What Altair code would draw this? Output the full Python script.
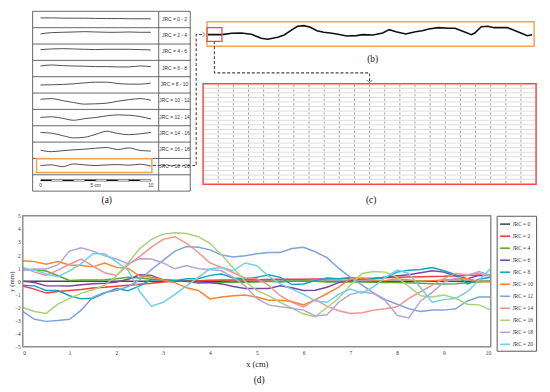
import altair as alt
import pandas as pd

W, H = 542, 384
SERIF = "Liberation Serif"
SANS = "Liberation Sans"

x_cm = [0, 0.25, 0.5, 0.75, 1, 1.25, 1.5, 1.75, 2, 2.25, 2.5, 2.75, 3, 3.25, 3.5, 3.75,
        4, 4.25, 4.5, 4.75, 5, 5.25, 5.5, 5.75, 6, 6.25, 6.5, 6.75, 7, 7.25, 7.5, 7.75,
        8, 8.25, 8.5, 8.75, 9, 9.25, 9.5, 9.75, 10]
jrc_levels = [0, 2, 4, 6, 8, 10, 12, 14, 16, 18, 20]
jrc_0 = [0.0, 0.0, 0.0, 0.0, 0.0, 0.0, 0.0, 0.0, 0.0, 0.0, 0.0, 0.0, 0.0, 0.0, 0.0, 0.0,
         0.0, 0.0, 0.0, 0.0, 0.0, 0.0, 0.0, 0.0, 0.0, 0.0, 0.0, 0.0, 0.0, 0.0, 0.0, 0.0,
         0.0, 0.0, 0.0, 0.0, 0.0, 0.0, 0.0, 0.0, 0.0]
jrc_2 = [-0.36, -0.6, -0.9, -0.78, -0.7, -0.62, -0.52, -0.46, -0.38, -0.3, -0.22, -0.15, -0.05, 0.0,
         0.02, 0.05, 0.08, 0.1, 0.1, 0.12, 0.12, 0.14, 0.15, 0.15, 0.16, 0.18, 0.18, 0.2, 0.2, 0.22,
         0.24, 0.26, 0.3, 0.32, 0.34, 0.36, 0.38, 0.42, 0.46, 0.48, 0.5]
jrc_4 = [0.94, 0.88, 0.78, 0.42, 0.06, 0.1, 0.1, 0.12, 0.2, 0.3, 0.25, 0.15, 0.1, 0.08, 0.0, -0.15,
         -0.12, -0.1, -0.05, -0.08, -0.05, 0.0, -0.05, 0.0, 0.02, 0.0, -0.05, -0.03, -0.05, -0.05,
         -0.08, -0.1, -0.1, -0.12, -0.15, -0.18, -0.2, -0.18, -0.12, -0.05, 0.0]
jrc_6 = [0.0, -0.1, -0.35, -0.35, -0.36, -0.26, -0.18, -0.15, -0.05, 0.15, 0.5, 0.45, 0.1, 0.05, 0.0,
         -0.05, -0.1, -0.2, -0.4, -0.55, -0.55, -0.55, -0.35, -0.5, -0.7, -0.68, -0.45, -0.1, 0.05,
         0.2, 0.22, 0.3, 0.42, 0.5, 0.65, 0.8, 0.7, 0.4, 0.2, 0.45, 0.44]
jrc_8 = [-0.3, -0.35, -0.7, -0.7, -1.1, -1.34, -1.3, -0.9, -0.56, -0.72, -0.35, 0.15, 0.1, 0.05, 0.2,
         0.2, 0.45, 0.55, 0.25, 0.2, 0.3, 0.5, 0.3, -0.25, -0.2, 0.05, 0.25, 0.2, 0.28, 0.15, 0.2, 0.3,
         0.7, 0.85, 0.9, 1.05, 0.8, 0.5, -0.2, 0.15, 0.3]
jrc_10 = [1.56, 1.5, 1.3, 1.5, 1.25, 1.2, 1.1, 1.4, 1.06, 0.98, 0.4, 0.3, 0.1, -0.1, -0.5, -0.7,
          -1.35, -1.2, -1.1, -1.05, -1.2, -1.44, -1.45, -1.55, -1.8, -1.4, -0.95, -0.45, 0.2, 0.25,
          0.1, 0.05, 0.2, 0.1, 0.0, 0.05, 0.1, 0.15, 0.2, 0.0, -0.05]
jrc_12 = [-2.3, -2.9, -3.06, -3.0, -2.9, -2.2, -1.2, -0.85, -0.7, -0.4, 0.1, 0.9, 1.6, 2.3, 2.65,
          2.6, 2.4, 2.0, 1.85, 1.95, 2.1, 2.2, 2.2, 2.5, 2.6, 2.25, 1.8, 1.0, 0.3, -0.3, -0.9, -1.4,
          -1.75, -2.1, -2.3, -2.2, -2.2, -2.1, -1.5, -1.2, -1.2]
jrc_14 = [1.06, 0.7, 0.45, 0.85, 1.3, 1.7, 1.15, 0.65, 0.44, 1.25, 1.9, 2.6, 3.2, 3.4, 2.9, 2.2,
          1.4, 1.05, 0.65, 0.25, 0.2, -0.3, -1.1, -1.6, -1.95, -1.4, -1.9, -2.25, -2.45, -2.4, -2.2,
          -2.1, -1.95, -1.3, -0.8, -0.3, 0.2, 0.6, 0.5, 0.6, 0.4]
jrc_16 = [-2.0, -2.3, -2.45, -1.75, -1.3, -0.9, -0.65, -0.3, 0.4, 1.4, 2.5, 3.2, 3.6, 3.7, 3.65,
          3.4, 2.9, 2.0, 1.0, 0.0, -0.7, -1.1, -1.6, -2.05, -2.5, -2.7, -2.0, -1.3, -0.3, 0.6, 0.75,
          0.7, 0.3, -0.4, -1.1, -1.2, -1.05, -1.3, -1.75, -1.8, -2.2]
jrc_18 = [0.8, 0.94, 0.94, 1.25, 2.3, 2.56, 2.3, 1.95, 1.7, 1.35, 1.72, 1.7, 1.4, 0.95, 1.2, 0.95,
          0.9, 0.8, 0.3, -0.35, -1.3, -1.8, -1.95, -2.06, -2.2, -2.65, -2.56, -1.6, -1.0, -0.8,
          -0.95, -1.5, -2.6, -2.8, -1.5, -0.85, -0.06, 0.22, 0.45, 0.75, 0.44]
jrc_20 = [0.94, 0.85, 0.55, 0.35, 0.8, 1.35, 2.1, 2.1, 1.5, 0.85, -0.8, -1.9, -1.6, -1.0, -0.35,
          0.3, 0.95, 1.05, 0.8, 1.4, 1.2, 0.4, -0.2, -0.6, -1.0, -1.5, -1.6, -1.0, -0.6, -0.9, -0.4,
          0.3, 0.85, 0.6, -0.5, -1.6, -1.4, -1.3, -0.8, 0.1, 1.0]
series_d = [jrc_0, jrc_2, jrc_4, jrc_6, jrc_8, jrc_10, jrc_12, jrc_14, jrc_16, jrc_18, jrc_20]
line_colors = ["#4a4a4a", "#e8423b", "#62a632", "#7b45a8", "#15a3bf", "#f7862e",
               "#7fa3dc", "#f29393", "#a6d27c", "#b7a2d9", "#6fcfe9"]

# ---------------- (a) Barton standard profiles (deviation in mm, up = +) ----------------
a_x = [0, 1, 2, 3, 4, 5, 6, 7, 8, 9, 10]
prof_a_0_2 = [1.5, 1.5, 1.3, 1.2, 1.2, 1.0, 0.9, 0.9, 0.7, 0.7, 0.6]
prof_a_2_4 = [1.8, 3.0, 3.3, 3.6, 3.9, 3.6, 3.3, 3.3, 3.6, 3.3, 3.3]
prof_a_4_6 = [2.4, 3.0, 3.3, 3.0, 2.7, 2.4, 2.7, 2.7, 2.7, 2.4, 2.1]
prof_a_6_8 = [2.4, 3.3, 2.7, 2.4, 2.1, 1.8, 1.8, 1.5, 1.5, 2.4, 1.8]
prof_a_8_10 = [-0.1, 0.1, 0.4, 1.0, 1.9, 2.5, 2.5, 1.3, 0.7, 0.7, 1.6]
prof_a_10_12 = [1.8, 2.4, 0.6, -1.2, -2.7, -2.4, -1.8, 0.0, 1.5, 2.4, 0.9]
prof_a_12_14 = [0.1, 0.7, -0.7, -2.5, -1.0, 0.1, 1.6, 2.5, 2.2, 1.0, -1.3]
prof_a_14_16 = [1.3, 0.7, -1.6, -3.7, -3.1, -0.4, 2.5, 0.4, -0.7, 0.1, 1.3]
prof_a_16_18 = [0.1, -1.3, -0.4, 0.4, 1.0, 1.9, 2.5, 0.7, 2.2, -0.1, -0.7]
prof_a_18_20 = [1.0, 1.6, -0.1, 2.5, 1.6, 1.0, 1.6, 1.9, 1.3, 2.2, 0.4]
a_profiles = [prof_a_0_2, prof_a_2_4, prof_a_4_6, prof_a_6_8, prof_a_8_10,
              prof_a_10_12, prof_a_12_14, prof_a_14_16, prof_a_16_18, prof_a_18_20]
a_labels = ["JRC = 0 - 2", "JRC = 2 - 4", "JRC = 4 - 6", "JRC = 6 - 8", "JRC = 8 - 10",
            "JRC = 10 - 12", "JRC = 12 - 14", "JRC = 14 - 16", "JRC = 16 - 18", "JRC = 18 - 20"]
bar_cm = [0, 1, 2, 3, 4, 5, 6, 7, 8, 9]
bar_tick_cm = [0, 5, 10]
bar_tick_text = ["0", "5 cm", "10"]

# ---------------- (b) enlarged JRC 18-20 profile ----------------
b_x = [0, 0.43, 0.73, 1.03, 1.34, 1.64, 1.84, 2.15, 2.35, 2.55, 2.76, 2.96, 3.16, 3.36, 3.57,
       3.77, 3.97, 4.28, 4.58, 4.78, 5.09, 5.39, 5.59, 5.80, 6.10, 6.40, 6.61, 6.81, 7.11, 7.42,
       7.62, 7.82, 8.13, 8.23, 8.43, 8.63, 8.83, 9.04, 9.24, 9.44, 9.65, 9.85, 10.0]
b_h = [0.3, 0.3, 0.7, 0.8, 0.4, -0.8, -1.1, -0.5, 0.2, 1.5, 2.8, 3.0, 2.5, 1.5, 1.0, 0.8, 0.5,
       -0.1, 0.0, 0.3, 0.2, 0.8, 1.8, 1.2, 0.5, 1.2, 1.5, 2.0, 2.4, 2.2, 2.2, 1.5, 0.3, 0.8, 2.7,
       2.8, 2.4, 2.4, 2.4, 1.6, 0.8, 0.0, 0.3]

# ---------------- (c) digitised table grid ----------------
c_cols = 22
c_rows = 22


# ---------------- layout helpers ----------------
def S(domain, rng):
    return alt.Scale(domain=domain, range=rng, nice=False, zero=False)


def enc(xs, ys, x="x", y="y", x2=None, y2=None):
    e = dict(x=alt.X(f"{x}:Q", scale=xs, axis=None), y=alt.Y(f"{y}:Q", scale=ys, axis=None))
    if x2:
        e["x2"] = alt.X2(x2)
    if y2:
        e["y2"] = alt.Y2(y2)
    return e


layers = []

# ---------- panel (a) ----------
ROW_MM = 15.2
AX = S([0, 10], [33, 145])
AY = S([0, 11 * ROW_MM], [0.5, 183])
A_LEFT, A_DIV, A_RIGHT = -0.714, 10.71, 13.57

a_h = pd.DataFrame({"y": [k * ROW_MM for k in range(12)], "x": A_LEFT, "x2": A_RIGHT})
layers.append(alt.Chart(a_h).mark_rule(color="#555555", strokeWidth=0.9).encode(**enc(AX, AY, x2="x2")))
a_v = pd.DataFrame({"x": [A_LEFT, A_DIV, A_RIGHT], "y": 0.0, "y2": 11 * ROW_MM})
layers.append(alt.Chart(a_v).mark_rule(color="#555555", strokeWidth=0.9).encode(**enc(AX, AY, y2="y2")))

prof_rows = []
for k, prof in enumerate(a_profiles):
    for xv, dv in zip(a_x, prof):
        prof_rows.append({"x": xv, "y": (k + 0.5) * ROW_MM - dv, "row": k})
layers.append(alt.Chart(pd.DataFrame(prof_rows)).mark_line(
    color="#3a3a3a", strokeWidth=0.9, interpolate="monotone").encode(**enc(AX, AY), detail="row:N"))

lab_df = pd.DataFrame({"x": 12.14, "y": [(k + 0.45) * ROW_MM for k in range(10)], "t": a_labels})
layers.append(alt.Chart(lab_df).mark_text(font=SANS, fontSize=5, color="#333333").encode(
    **enc(AX, AY), text="t:N"))

hl = pd.DataFrame({"x": [-0.36], "x2": [10.09], "y": [137.0], "y2": [149.8]})
layers.append(alt.Chart(hl).mark_rect(fillOpacity=0, stroke="#f2a24e", strokeWidth=1.5).encode(
    **enc(AX, AY, x2="x2", y2="y2")))

bar_df = pd.DataFrame({"x": bar_cm, "x2": [v + 1 for v in bar_cm], "y": 156.3, "y2": 157.9,
                       "dark": [i % 2 == 0 for i in range(len(bar_cm))]})
layers.append(alt.Chart(bar_df[bar_df.dark]).mark_rect(fill="#111111").encode(
    **enc(AX, AY, x2="x2", y2="y2")))
layers.append(alt.Chart(bar_df[~bar_df.dark]).mark_rect(fill="white", stroke="#111111", strokeWidth=0.5).encode(
    **enc(AX, AY, x2="x2", y2="y2")))
bt = pd.DataFrame({"x": bar_tick_cm, "y": 162.6, "t": bar_tick_text})
layers.append(alt.Chart(bt).mark_text(font=SANS, fontSize=4.8, color="#333333").encode(
    **enc(AX, AY), text="t:N"))
layers.append(alt.Chart(pd.DataFrame({"x": [6.0], "y": [175.3], "t": ["(a)"]})).mark_text(
    font=SERIF, fontSize=9.5, color="#111111").encode(**enc(AX, AY), text="t:N"))

# ---------- panel (b) ----------
BX = S([0, 10], [203, 532])
BY = S([-3.2, 4.2], [36, 11])
layers.append(alt.Chart(pd.DataFrame({"x": [-0.03], "x2": [10.06], "y": [-3.2], "y2": [4.2]})).mark_rect(
    fillOpacity=0, stroke="#f5a54f", strokeWidth=1.5).encode(**enc(BX, BY, x2="x2", y2="y2")))
layers.append(alt.Chart(pd.DataFrame({"x": b_x, "y": b_h})).mark_line(
    color="#111111", strokeWidth=1.6).encode(**enc(BX, BY)))
layers.append(alt.Chart(pd.DataFrame({"x": [-0.03], "x2": [0.43], "y": [-1.72], "y2": [2.42]})).mark_rect(
    fillOpacity=0, stroke="#ef4b4b", strokeWidth=1.3).encode(**enc(BX, BY, x2="x2", y2="y2")))
layers.append(alt.Chart(pd.DataFrame({"x": [5.08], "y": [-7.05], "t": ["(b)"]})).mark_text(
    font=SERIF, fontSize=9.5, color="#111111").encode(**enc(BX, BY), text="t:N"))

# ---------- panel (c) ----------
CX = S([0, c_cols], [198, 536])
CY = S([0, c_rows], [74, 176])
ch = pd.DataFrame({"y": list(range(1, c_rows)), "x": 0, "x2": c_cols})
layers.append(alt.Chart(ch).mark_rule(color="#d4d4d4", strokeWidth=0.8).encode(**enc(CX, CY, x2="x2")))
cv = pd.DataFrame({"x": list(range(1, c_cols)), "y": 0, "y2": c_rows})
layers.append(alt.Chart(cv).mark_rule(color="#8c8c8c", strokeWidth=0.8, strokeDash=[2.4, 2.24],
                                      strokeDashOffset=3.5).encode(**enc(CX, CY, y2="y2")))
layers.append(alt.Chart(pd.DataFrame({"x": [0], "x2": [c_cols], "y": [0], "y2": [c_rows]})).mark_rect(
    fillOpacity=0, stroke="#f04a4a", strokeWidth=1.5).encode(**enc(CX, CY, x2="x2", y2="y2")))
layers.append(alt.Chart(pd.DataFrame({"x": [11.1], "y": [25.45], "t": ["(c)"]})).mark_text(
    font=SERIF, fontSize=9.5, color="#111111").encode(**enc(CX, CY), text="t:N"))

# ---------- panel (d) ----------
DX = S([0, 10], [15, 490])
DY = S([-5, 5], [341, 208])
labels_d = [f"JRC = {j}" for j in jrc_levels]
d_rows = []
for lab, vals in zip(labels_d, series_d):
    for xv, yv in zip(x_cm, vals):
        d_rows.append({"x": xv, "y": yv, "JRC": lab})
df_d = pd.DataFrame(d_rows)

x_axis = alt.Axis(orient="bottom", offset=-43, values=list(range(11)), format="d", domain=False,
                  grid=False, ticks=False, labelFont=SERIF, labelFontSize=5.5, labelColor="#333333",
                  labelPadding=4, title="x (cm)", titleFont=SERIF, titleFontSize=8.5,
                  titleFontWeight="normal", titleColor="#222222", titlePadding=3)
y_axis = alt.Axis(orient="left", offset=-15, values=list(range(-5, 6)), format="d", domain=False,
                  grid=False, ticks=False, labelFont=SERIF, labelFontSize=5.5, labelColor="#333333",
                  labelPadding=2.5, title="y (mm)", titleFont=SERIF, titleFontSize=7,
                  titleFontWeight="normal", titleColor="#222222", titleX=-11.5, titleY=274.5,
                  titleAlign="center", titleBaseline="middle", titleAngle=270)
legend_d = alt.Legend(orient="none", legendX=496, legendY=208, title=None, symbolType="stroke",
                      symbolStrokeWidth=1.6, symbolSize=100, labelFont=SERIF, labelFontSize=5.5,
                      labelColor="#333333", labelOffset=1.5, rowPadding=2.2, padding=2.5,
                      strokeColor="#555555")
layers.append(alt.Chart(df_d).mark_line(strokeWidth=1.5).encode(
    x=alt.X("x:Q", scale=DX, axis=x_axis),
    y=alt.Y("y:Q", scale=DY, axis=y_axis),
    color=alt.Color("JRC:N", scale=alt.Scale(domain=labels_d, range=line_colors), legend=legend_d),
))
layers.append(alt.Chart(pd.DataFrame({"x": [0], "x2": [10], "y": [-5], "y2": [5]})).mark_rect(
    fillOpacity=0, stroke="#8e8e8e", strokeWidth=1.5).encode(**enc(DX, DY, x2="x2", y2="y2")))
layers.append(alt.Chart(pd.DataFrame({"x": [5.05], "y": [-7.56], "t": ["(d)"]})).mark_text(
    font=SERIF, fontSize=9.5, color="#111111").encode(**enc(DX, DY), text="t:N"))

# ---------- dashed connectors (page pixel space) ----------
PX = S([0, W], [0, W])
PY = S([0, H], [0, H])
conn = pd.DataFrame({
    "x": [147, 191, 191, 199, 209.5, 209.5, 367, 367],
    "y": [157, 157, 24, 24, 31, 63, 63, 72],
    "seg": [1, 1, 1, 1, 2, 2, 2, 2],
    "i": [0, 1, 2, 3, 0, 1, 2, 3],
})
layers.append(alt.Chart(conn).mark_line(color="#444444", strokeWidth=1.1, strokeDash=[3, 2]).encode(
    **enc(PX, PY), detail="seg:N", order="i:Q"))
layers.append(alt.Chart(pd.DataFrame({"x": [200], "y": [24]})).mark_point(
    shape="M-1,-1L0,0L-1,1", filled=False, stroke="#444444", strokeWidth=1, size=30).encode(**enc(PX, PY)))
layers.append(alt.Chart(pd.DataFrame({"x": [367], "y": [73]})).mark_point(
    shape="M-1,-1L0,0L1,-1", filled=False, stroke="#444444", strokeWidth=1, size=30).encode(**enc(PX, PY)))

chart = alt.layer(*layers).resolve_scale(x="independent", y="independent").properties(
    width=W, height=H, padding=0, autosize=alt.AutoSizeParams(type="none")
).configure_view(stroke="transparent")

chart.save("out.html", embed_options={"renderer": "svg", "actions": False})
